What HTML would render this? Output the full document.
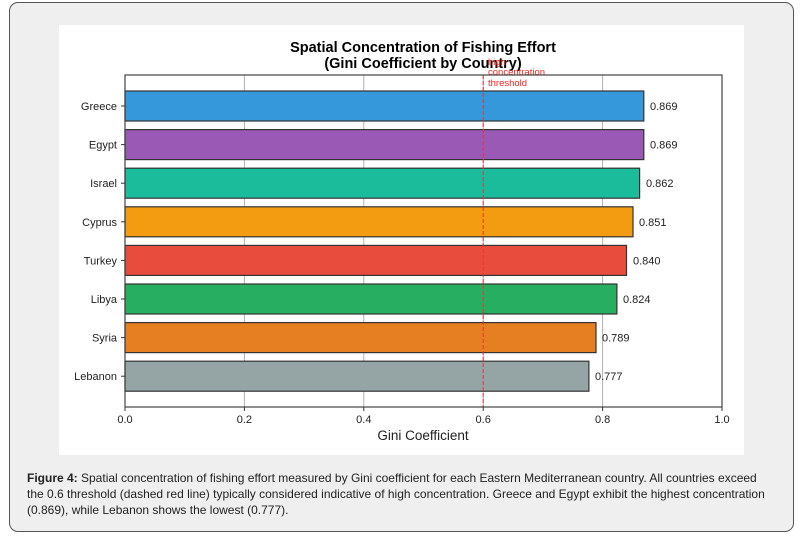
<!DOCTYPE html>
<html><head><style>
body{margin:0;width:805px;height:540px;background:#fff;position:relative;overflow:hidden;font-family:"Liberation Sans",sans-serif}
.card{position:absolute;left:9px;top:2px;width:785px;height:530px;background:#efefef;border:1px solid #555;border-radius:9px;box-sizing:border-box}
.cap{position:absolute;left:27px;top:470px;width:742px;font-size:12px;line-height:16px;color:#222;letter-spacing:0px}
</style></head><body>
<div class="card"></div>
<svg style="position:absolute;left:0;top:0" width="805" height="540">
<rect x="59" y="25" width="685" height="430" fill="#fff"/>
<g font-family="Liberation Sans,DejaVu Sans,sans-serif">
<text x="423" y="52" text-anchor="middle" font-size="14.5" font-weight="bold">Spatial Concentration of Fishing Effort</text>
<text x="423" y="68" text-anchor="middle" font-size="14.5" font-weight="bold">(Gini Coefficient by Country)</text>
<g stroke="#b0b0b0" stroke-width="1">
<line x1="244.4" y1="75" x2="244.4" y2="407"/><line x1="363.8" y1="75" x2="363.8" y2="407"/><line x1="483.2" y1="75" x2="483.2" y2="407"/><line x1="602.6" y1="75" x2="602.6" y2="407"/>
</g>
<g stroke="#333" stroke-width="1.2">
<rect x="125" y="91" width="518.8" height="30" fill="#3498db"/>
<rect x="125" y="129.6" width="518.8" height="30" fill="#9b59b6"/>
<rect x="125" y="168.2" width="514.6" height="30" fill="#1abc9c"/>
<rect x="125" y="206.8" width="508" height="30" fill="#f39c12"/>
<rect x="125" y="245.4" width="501.5" height="30" fill="#e74c3c"/>
<rect x="125" y="284" width="491.9" height="30" fill="#27ae60"/>
<rect x="125" y="322.6" width="471" height="30" fill="#e67e22"/>
<rect x="125" y="361.2" width="463.9" height="30" fill="#95a5a6"/>
</g>
<line x1="483.2" y1="75" x2="483.2" y2="407" stroke="#e33" stroke-width="1" stroke-dasharray="4,2"/>
<g font-size="9.5" fill="#f22"><text x="488" y="65">high</text><text x="488" y="75">concentration</text><text x="488" y="86">threshold</text></g>
<rect x="125" y="75" width="597" height="332" fill="none" stroke="#444" stroke-width="1.2"/>
<g font-size="11" fill="#222">
<text x="650" y="110">0.869</text><text x="650" y="148.6">0.869</text><text x="646" y="187.2">0.862</text><text x="639" y="225.8">0.851</text><text x="633" y="264.4">0.840</text><text x="623" y="303">0.824</text><text x="602" y="341.6">0.789</text><text x="595" y="380.2">0.777</text>
</g>
<g font-size="11" fill="#222" text-anchor="end">
<text x="117" y="110">Greece</text><text x="117" y="148.6">Egypt</text><text x="117" y="187.2">Israel</text><text x="117" y="225.8">Cyprus</text><text x="117" y="264.4">Turkey</text><text x="117" y="303">Libya</text><text x="117" y="341.6">Syria</text><text x="117" y="380.2">Lebanon</text>
</g>
<g stroke="#333"><line x1="121" y1="106" x2="125" y2="106"/><line x1="121" y1="144.6" x2="125" y2="144.6"/><line x1="121" y1="183.2" x2="125" y2="183.2"/><line x1="121" y1="221.8" x2="125" y2="221.8"/><line x1="121" y1="260.4" x2="125" y2="260.4"/><line x1="121" y1="299" x2="125" y2="299"/><line x1="121" y1="337.6" x2="125" y2="337.6"/><line x1="121" y1="376.2" x2="125" y2="376.2"/>
<line x1="125" y1="407" x2="125" y2="411"/><line x1="244.4" y1="407" x2="244.4" y2="411"/><line x1="363.8" y1="407" x2="363.8" y2="411"/><line x1="483.2" y1="407" x2="483.2" y2="411"/><line x1="602.6" y1="407" x2="602.6" y2="411"/><line x1="722" y1="407" x2="722" y2="411"/></g>
<g font-size="11" fill="#222" text-anchor="middle">
<text x="125" y="423">0.0</text><text x="244.4" y="423">0.2</text><text x="363.8" y="423">0.4</text><text x="483.2" y="423">0.6</text><text x="602.6" y="423">0.8</text><text x="722" y="423">1.0</text>
</g>
<text x="423" y="440" text-anchor="middle" font-size="13.5" fill="#222">Gini Coefficient</text>
</g>
</svg>
<div class="cap"><b>Figure 4:</b> Spatial concentration of fishing effort measured by Gini coefficient for each Eastern Mediterranean country. All countries exceed the 0.6 threshold (dashed red line) typically considered indicative of high concentration. Greece and Egypt exhibit the highest concentration (0.869), while Lebanon shows the lowest (0.777).</div>
</body></html>
